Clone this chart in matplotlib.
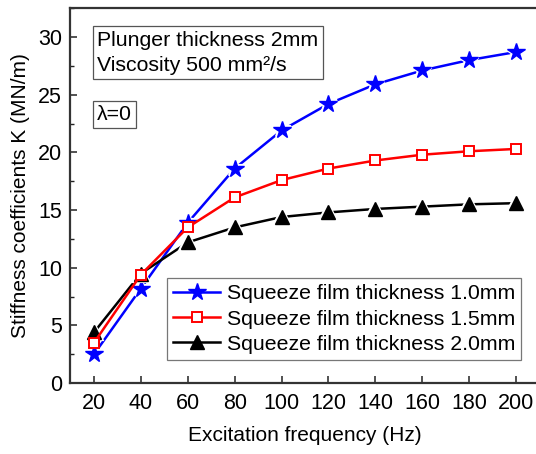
import matplotlib
matplotlib.use('Agg')
import matplotlib.pyplot as plt
from matplotlib.ticker import MultipleLocator

plt.rcParams['font.family'] = ['Liberation Sans', 'DejaVu Sans']

# excitation frequency (Hz)
freq = [20, 40, 60, 80, 100, 120, 140, 160, 180, 200]
# stiffness coefficients K (MN/m) for each squeeze film thickness
k_10 = [2.5, 8.2, 13.9, 18.6, 21.9, 24.2, 25.9, 27.1, 28.0, 28.7]
k_15 = [3.5, 9.4, 13.5, 16.1, 17.6, 18.6, 19.3, 19.8, 20.1, 20.3]
k_20 = [4.4, 9.5, 12.2, 13.5, 14.4, 14.8, 15.1, 15.3, 15.5, 15.6]
labels = ['Squeeze film thickness 1.0mm',
          'Squeeze film thickness 1.5mm',
          'Squeeze film thickness 2.0mm']

fig = plt.figure(figsize=(5.36, 4.54), dpi=100)
ax = fig.add_axes([0.1315, 0.156, 0.875, 0.826])

styles = [
    dict(color='blue', marker='*', markersize=13, markerfacecolor='blue', markeredgecolor='blue'),
    dict(color='red', marker='s', markersize=7.5, markerfacecolor='white', markeredgecolor='red', markeredgewidth=1.4),
    dict(color='black', marker='^', markersize=10, markerfacecolor='black', markeredgecolor='black'),
]
gap = [True, False, True]
zorder = [2, 4, 3]

handles = []
for y, st, lab, g, z in zip([k_10, k_15, k_20], styles, labels, gap, zorder):
    ax.plot(freq, y, lw=1.8, color=st['color'], zorder=z)
    if g:
        # small white gap between the line and the filled symbols
        ax.plot(freq, y, ls='none', marker=st['marker'], markersize=st['markersize'],
                markerfacecolor='white', markeredgecolor='white', markeredgewidth=3, zorder=z)
    ax.plot(freq, y, ls='none', zorder=z, **st)
    handles.append(ax.plot([], [], lw=1.8, label=lab, **st)[0])

ax.set_xlim(10, 210)
ax.set_ylim(0, 32.5)
ax.xaxis.set_major_locator(MultipleLocator(20))
ax.yaxis.set_major_locator(MultipleLocator(5))
ax.yaxis.set_minor_locator(MultipleLocator(2.5))
ax.tick_params(direction='in', labelsize=15.5, length=5, width=1.1, colors='#222222', labelcolor='black')
ax.tick_params(axis='y', which='minor', direction='in', length=3, width=1.0, colors='#222222')
ax.tick_params(axis='x', pad=7)
ax.tick_params(axis='y', pad=6)
for s in ax.spines.values():
    s.set_linewidth(1.6)
    s.set_color('#333333')

ax.set_xlabel('Excitation frequency (Hz)', fontsize=15, labelpad=9)
ax.set_ylabel('Stiffness coefficients K (MN/m)', fontsize=15, labelpad=6)

box = dict(boxstyle='square,pad=0.2', facecolor='white', edgecolor='#555555', linewidth=0.9)
ax.text(0.057, 0.94, 'Plunger thickness 2mm\nViscosity 500 mm\u00b2/s', transform=ax.transAxes,
        fontsize=15.3, va='top', ha='left', bbox=box, linespacing=1.4)
ax.text(0.057, 0.742, '\u03bb=0', transform=ax.transAxes,
        fontsize=15.3, va='top', ha='left', bbox=box)

leg = ax.legend(handles=handles, loc='lower left', bbox_to_anchor=(0.206, 0.061),
                fontsize=15.3, frameon=True, fancybox=False, handlelength=2.2,
                handletextpad=0.3, borderpad=0.3, labelspacing=0.3, borderaxespad=0)
leg.set_zorder(6)
leg.get_frame().set_edgecolor('#555555')
leg.get_frame().set_linewidth(0.9)

fig.savefig('out.png', dpi=100)
